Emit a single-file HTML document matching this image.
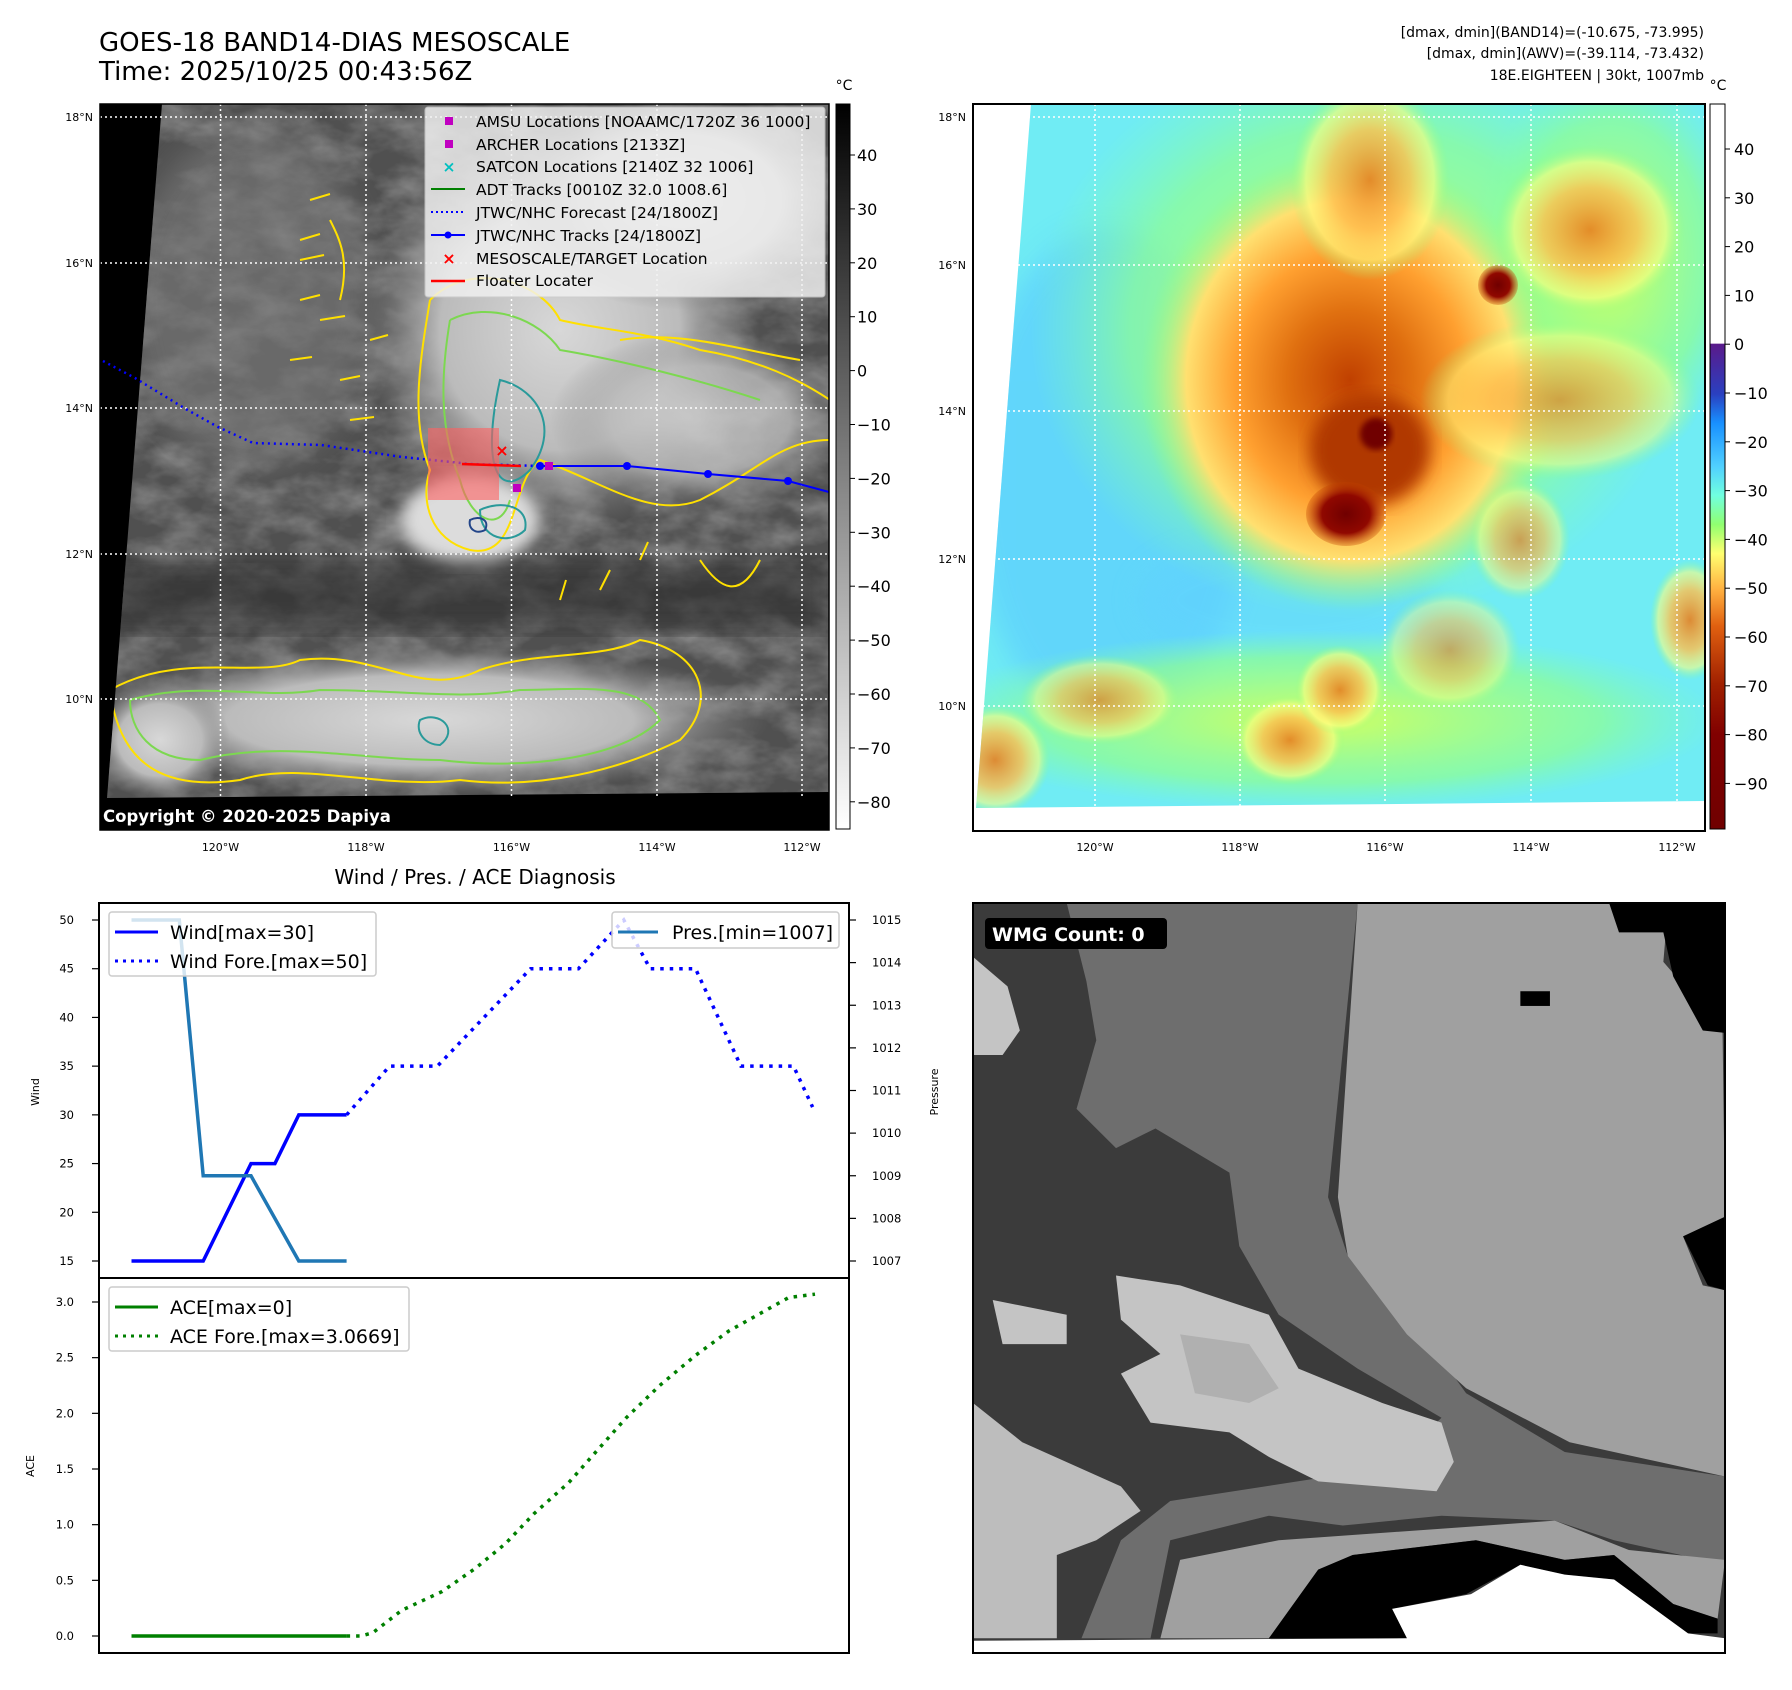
<!DOCTYPE html>
<html><head><meta charset="utf-8">
<style>
html,body{margin:0;padding:0;background:#fff;}
svg{display:block;font-family:"DejaVu Sans","Liberation Sans",sans-serif;}
</style></head>
<body>
<svg id="fig" width="1792" height="1690" viewBox="0 0 1792 1690" xmlns="http://www.w3.org/2000/svg">
<defs>
  <filter id="cloud" x="0" y="0" width="100%" height="100%">
    <feTurbulence type="fractalNoise" baseFrequency="0.02 0.035" numOctaves="4" seed="3"/>
    <feColorMatrix type="matrix" values="0 0 0 0 0.5  0 0 0 0 0.5  0 0 0 0 0.5  0 0 0 1.1 -0.35"/>
  </filter>
  <filter id="blur8"><feGaussianBlur stdDeviation="8"/></filter>
  <filter id="blur14"><feGaussianBlur stdDeviation="14"/></filter>
  <filter id="blur4"><feGaussianBlur stdDeviation="3"/></filter>
  <clipPath id="clipL"><polygon points="162,104 829,104 829,792 107,798"/></clipPath>
  <clipPath id="clipR"><polygon points="1031,104 1705,104 1705,801 976,808"/></clipPath>
  <linearGradient id="cbGray" x1="0" y1="0" x2="0" y2="1">
    <stop offset="0" stop-color="#000"/><stop offset="1" stop-color="#fff"/>
  </linearGradient>
  <linearGradient id="cbColor" x1="0" y1="0" x2="0" y2="1">
    <stop offset="0" stop-color="#fff"/><stop offset="0.33" stop-color="#fff"/>
    <stop offset="0.331" stop-color="#5a1a8a"/>
    <stop offset="0.40" stop-color="#2a40c0"/>
    <stop offset="0.44" stop-color="#1890ff"/>
    <stop offset="0.50" stop-color="#50d0ff"/>
    <stop offset="0.54" stop-color="#70ffe0"/>
    <stop offset="0.58" stop-color="#90ff70"/>
    <stop offset="0.62" stop-color="#ffff70"/>
    <stop offset="0.67" stop-color="#ffb040"/>
    <stop offset="0.72" stop-color="#e06010"/>
    <stop offset="0.80" stop-color="#a02000"/>
    <stop offset="0.87" stop-color="#800000"/>
    <stop offset="1" stop-color="#700000"/>
  </linearGradient>
  <radialGradient id="stormR">
    <stop offset="0" stop-color="#c04000"/><stop offset="0.3" stop-color="#e07010"/>
    <stop offset="0.55" stop-color="#ffa030"/><stop offset="0.78" stop-color="#ffe070"/>
    <stop offset="1" stop-color="#90ff80" stop-opacity="0"/>
  </radialGradient>
  <radialGradient id="orangeR">
    <stop offset="0" stop-color="#e88020" stop-opacity="0.9"/><stop offset="0.5" stop-color="#ffc050" stop-opacity="0.8"/>
    <stop offset="0.8" stop-color="#ffff80" stop-opacity="0.6"/><stop offset="1" stop-color="#90ff80" stop-opacity="0"/>
  </radialGradient>
  <radialGradient id="greenR">
    <stop offset="0" stop-color="#d0ff60"/><stop offset="0.7" stop-color="#90ff90" stop-opacity="0.7"/>
    <stop offset="1" stop-color="#80ffb0" stop-opacity="0"/>
  </radialGradient>
  <radialGradient id="lightG">
    <stop offset="0" stop-color="#d8d8d8"/><stop offset="0.6" stop-color="#bbb"/>
    <stop offset="1" stop-color="#888" stop-opacity="0"/>
  </radialGradient>
  <radialGradient id="darkRed">
    <stop offset="0" stop-color="#700000"/><stop offset="0.6" stop-color="#900800"/>
    <stop offset="1" stop-color="#c04000" stop-opacity="0.3"/>
  </radialGradient>
</defs>

<!-- ===== Titles ===== -->
<text x="99" y="51" font-size="26">GOES-18 BAND14-DIAS MESOSCALE</text>
<text x="99" y="80" font-size="26">Time: 2025/10/25 00:43:56Z</text>
<g font-size="14" text-anchor="end">
  <text x="1704" y="37">[dmax, dmin](BAND14)=(-10.675, -73.995)</text>
  <text x="1704" y="58">[dmax, dmin](AWV)=(-39.114, -73.432)</text>
  <text x="1704" y="80">18E.EIGHTEEN | 30kt, 1007mb</text>
</g>

<!-- ===== Left map ===== -->
<g>
  <rect x="100" y="104" width="729" height="726" fill="#000"/>
  <g clip-path="url(#clipL)">
    <rect x="100" y="104" width="729" height="700" fill="#505050"/>
    <rect x="100" y="104" width="729" height="700" filter="url(#cloud)" opacity="0.8"/>
    <ellipse cx="250" cy="300" rx="120" ry="170" fill="#7a7a7a" filter="url(#blur14)" opacity="0.6"/>
    <ellipse cx="560" cy="330" rx="200" ry="200" fill="url(#lightG)"/>
    <ellipse cx="680" cy="200" rx="170" ry="110" fill="url(#lightG)"/>
    <ellipse cx="700" cy="420" rx="150" ry="90" fill="url(#lightG)" opacity="0.8"/>
    <ellipse cx="470" cy="520" rx="70" ry="45" fill="#dcdcdc" filter="url(#blur8)"/>
    <rect x="100" y="560" width="729" height="70" fill="#2a2a2a" opacity="0.6" filter="url(#blur14)"/>
    <ellipse cx="430" cy="720" rx="340" ry="75" fill="url(#lightG)"/>
    <ellipse cx="160" cy="740" rx="70" ry="60" fill="url(#lightG)"/>
    <g fill="none" stroke-width="2">
      <path d="M430,300 C470,260 540,280 560,320 C600,330 640,330 700,350 C760,360 800,380 830,400 M430,300 C420,360 410,420 430,470 C420,500 430,540 470,550 C520,560 510,480 540,460 C600,480 650,520 700,500 C760,470 780,440 830,440" stroke="#ffe000"/>
      <path d="M450,320 C490,300 540,320 560,350 C620,360 700,380 760,400 M450,320 C440,380 440,430 460,480 C470,520 500,535 510,500" stroke="#7cd850"/>
      <path d="M500,380 C540,390 560,430 530,470 C500,500 480,470 500,380 Z" stroke="#2a9a9a"/>
      <path d="M480,510 C500,500 530,505 525,530 C510,545 480,540 480,510 Z" stroke="#2a9a9a"/>
      <path d="M470,520 C480,515 490,520 485,530 C475,535 468,528 470,520 Z" stroke="#224488"/>
      <path d="M110,690 C180,650 260,680 300,660 C380,650 420,700 480,670 C540,650 600,660 640,640 C700,650 720,700 680,740 C620,770 540,790 460,780 C380,790 300,760 240,780 C170,790 120,770 110,690 Z" stroke="#ffe000"/>
      <path d="M130,700 C200,680 260,700 320,690 C400,690 460,700 520,690 C580,690 640,680 660,720 C620,760 520,770 440,760 C360,760 280,740 200,760 C150,760 130,730 130,700 Z" stroke="#7cd850"/>
      <path d="M420,720 C440,710 460,730 440,745 C425,745 415,732 420,720 Z" stroke="#2a9a9a"/>
      <path d="M330,220 C340,240 350,260 340,300 M300,240 l20,-6 M300,260 l24,-5 M310,200 l20,-6 M320,320 l25,-4 M300,300 l20,-5 M290,360 l22,-3 M340,380 l20,-4 M350,420 l24,-3 M370,340 l18,-5" stroke="#ffe000"/>
      <path d="M620,340 C680,330 740,350 800,360 M700,560 C720,590 740,600 760,560 M600,590 l10,-20 M640,560 l8,-18 M560,600 l6,-20" stroke="#ffe000"/>
    </g>
  </g>
  <g stroke="#fff" stroke-width="1.5" stroke-dasharray="2,3" fill="none">
    <line x1="220.5" y1="104" x2="220.5" y2="798"/><line x1="366" y1="104" x2="366" y2="798"/>
    <line x1="511.5" y1="104" x2="511.5" y2="798"/><line x1="657" y1="104" x2="657" y2="798"/>
    <line x1="802" y1="104" x2="802" y2="798"/>
    <line x1="100" y1="117" x2="829" y2="117"/><line x1="100" y1="263" x2="829" y2="263"/>
    <line x1="100" y1="408" x2="829" y2="408"/><line x1="100" y1="554" x2="829" y2="554"/>
    <line x1="100" y1="699" x2="829" y2="699"/>
  </g>
  <polyline points="103,361 135,378 184,408 218,427 253,443 321,445 402,457 471,464 540,466" fill="none" stroke="#0000ff" stroke-width="2.5" stroke-dasharray="2,4"/>
  <polyline points="540,466 627,466 708,474 788,481 829,492" fill="none" stroke="#0000ff" stroke-width="2"/>
  <g fill="#0000ff">
    <circle cx="540" cy="466" r="4"/><circle cx="627" cy="466" r="4"/><circle cx="708" cy="474" r="4"/><circle cx="788" cy="481" r="4"/>
  </g>
  <rect x="428" y="428" width="71" height="72" fill="#ff6060" opacity="0.6"/>
  <line x1="462" y1="464" x2="521" y2="466" stroke="#ff0000" stroke-width="2.5"/>
  <text x="502" y="456" font-size="16" fill="#ff0000" text-anchor="middle" font-weight="bold">×</text>
  <rect x="545" y="462" width="8" height="8" fill="#c000c0"/>
  <rect x="513" y="484" width="8" height="8" fill="#c000c0"/>
  <g font-size="15.5">
    <rect x="425" y="107" width="400" height="190" rx="3" fill="#f2f2f2" opacity="0.82" stroke="#ccc"/>
    <rect x="445" y="117" width="8" height="8" fill="#c000c0"/><text x="476" y="127">AMSU Locations [NOAAMC/1720Z 36 1000]</text>
    <rect x="445" y="140" width="8" height="8" fill="#c000c0"/><text x="476" y="150">ARCHER Locations [2133Z]</text>
    <text x="449" y="172" fill="#00c0c0" text-anchor="middle" font-weight="bold">×</text><text x="476" y="172">SATCON Locations [2140Z 32 1006]</text>
    <line x1="431" y1="189" x2="465" y2="189" stroke="#008000" stroke-width="2"/><text x="476" y="195">ADT Tracks [0010Z 32.0 1008.6]</text>
    <line x1="431" y1="212" x2="465" y2="212" stroke="#0000ff" stroke-width="2" stroke-dasharray="2,3"/><text x="476" y="218">JTWC/NHC Forecast [24/1800Z]</text>
    <line x1="431" y1="235" x2="465" y2="235" stroke="#0000ff" stroke-width="2"/><circle cx="448" cy="235" r="3.5" fill="#0000ff"/><text x="476" y="241">JTWC/NHC Tracks [24/1800Z]</text>
    <text x="449" y="264" fill="#ff0000" text-anchor="middle" font-weight="bold" font-size="16">×</text><text x="476" y="264">MESOSCALE/TARGET Location</text>
    <line x1="431" y1="281" x2="465" y2="281" stroke="#ff0000" stroke-width="2.5"/><text x="476" y="286">Floater Locater</text>
  </g>
  <text x="103" y="822" font-size="16.5" font-weight="bold" fill="#fff">Copyright © 2020-2025 Dapiya</text>
  <rect x="100" y="104" width="729" height="726" fill="none" stroke="#000" stroke-width="1.5"/>
  <g font-size="11" text-anchor="end">
    <text x="93" y="121">18°N</text><text x="93" y="267">16°N</text><text x="93" y="412">14°N</text><text x="93" y="558">12°N</text><text x="93" y="703">10°N</text>
  </g>
  <g font-size="11" text-anchor="middle">
    <text x="220.5" y="851">120°W</text><text x="366" y="851">118°W</text><text x="511.5" y="851">116°W</text><text x="657" y="851">114°W</text><text x="802" y="851">112°W</text>
  </g>
</g>
<g font-size="16">
  <rect x="836" y="104" width="14" height="725" fill="url(#cbGray)" stroke="#000" stroke-width="1"/>
  <text x="844" y="90" text-anchor="middle" font-size="14">°C</text>
  <g id="cb1ticks"></g>
</g>

<!-- ===== Right map ===== -->
<g>
  <rect x="973" y="104" width="732" height="727" fill="#fff"/>
  <g clip-path="url(#clipR)">
    <rect x="973" y="104" width="732" height="710" fill="#70ecf4"/>
    <ellipse cx="1110" cy="480" rx="140" ry="250" fill="#58c8ff" opacity="0.6" filter="url(#blur14)"/>
    <ellipse cx="1290" cy="600" rx="150" ry="60" fill="#60d0ff" opacity="0.5" filter="url(#blur14)"/>
    <ellipse cx="1360" cy="330" rx="330" ry="290" fill="url(#greenR)"/>
    <ellipse cx="1610" cy="260" rx="140" ry="200" fill="url(#greenR)"/>
    <ellipse cx="1320" cy="720" rx="400" ry="90" fill="url(#greenR)"/>
    <ellipse cx="1350" cy="380" rx="210" ry="230" fill="url(#stormR)"/>
    <ellipse cx="1370" cy="180" rx="80" ry="100" fill="url(#orangeR)"/>
    <ellipse cx="1590" cy="230" rx="95" ry="85" fill="url(#orangeR)"/>
    <ellipse cx="1560" cy="400" rx="140" ry="80" fill="url(#orangeR)" opacity="0.8"/>
    <ellipse cx="1370" cy="450" rx="60" ry="55" fill="#b03800" filter="url(#blur8)"/>
    <ellipse cx="1376" cy="434" rx="16" ry="16" fill="#700000" filter="url(#blur4)"/>
    <ellipse cx="1346" cy="514" rx="40" ry="32" fill="url(#darkRed)"/>
    <ellipse cx="1498" cy="285" rx="20" ry="20" fill="url(#darkRed)"/>
    <ellipse cx="995" cy="760" rx="55" ry="55" fill="url(#orangeR)"/>
    <ellipse cx="1290" cy="740" rx="55" ry="45" fill="url(#orangeR)"/>
    <ellipse cx="1340" cy="690" rx="45" ry="45" fill="url(#orangeR)"/>
    <ellipse cx="1100" cy="700" rx="80" ry="45" fill="url(#orangeR)" opacity="0.8"/>
    <ellipse cx="1450" cy="650" rx="70" ry="60" fill="url(#orangeR)" opacity="0.7"/>
    <ellipse cx="1690" cy="620" rx="40" ry="60" fill="url(#orangeR)"/>
    <ellipse cx="1520" cy="540" rx="50" ry="60" fill="url(#orangeR)" opacity="0.8"/>
  </g>
  <g stroke="#fff" stroke-width="1.5" stroke-dasharray="2,3" fill="none">
    <line x1="1095" y1="104" x2="1095" y2="806"/><line x1="1240" y1="104" x2="1240" y2="806"/>
    <line x1="1385" y1="104" x2="1385" y2="804"/><line x1="1531" y1="104" x2="1531" y2="803"/>
    <line x1="1677" y1="104" x2="1677" y2="802"/>
    <line x1="973" y1="117" x2="1705" y2="117"/><line x1="973" y1="265" x2="1705" y2="265"/>
    <line x1="973" y1="411" x2="1705" y2="411"/><line x1="973" y1="559" x2="1705" y2="559"/>
    <line x1="973" y1="706" x2="1705" y2="706"/>
  </g>
  <rect x="973" y="104" width="732" height="727" fill="none" stroke="#000" stroke-width="2"/>
  <g font-size="11" text-anchor="end">
    <text x="966" y="121">18°N</text><text x="966" y="269">16°N</text><text x="966" y="415">14°N</text><text x="966" y="563">12°N</text><text x="966" y="710">10°N</text>
  </g>
  <g font-size="11" text-anchor="middle">
    <text x="1095" y="851">120°W</text><text x="1240" y="851">118°W</text><text x="1385" y="851">116°W</text><text x="1531" y="851">114°W</text><text x="1677" y="851">112°W</text>
  </g>
</g>
<g font-size="16">
  <rect x="1710" y="104" width="15" height="725" fill="url(#cbColor)" stroke="#000" stroke-width="1"/>
  <text x="1718" y="90" text-anchor="middle" font-size="14">°C</text>
  <g id="cb2ticks"></g>
</g>

<!-- ===== Bottom-right WMG panel ===== -->
<g>
  <svg x="973" y="903" width="752" height="750" viewBox="0 0 1525 1530" preserveAspectRatio="none">
    <rect width="1525" height="1530" fill="#3b3b3b"/>
    <polygon fill="#6e6e6e" points="190,0 780,0 720,600 760,720 900,860 1000,1000 1200,1120 1525,1170 1525,1350 1300,1300 1180,1260 950,1250 750,1270 600,1250 400,1300 360,1500 220,1500 300,1300 400,1220 850,1150 950,1050 780,950 620,840 540,700 520,550 370,460 290,500 210,420 250,280 230,160"/>
    <polygon fill="#a0a0a0" points="780,0 1410,0 1400,120 1520,260 1525,640 1440,680 1480,780 1525,790 1525,1170 1210,1100 1000,990 880,880 760,720 740,600"/>
    <polygon fill="#a0a0a0" points="380,1500 420,1340 620,1300 1180,1260 1330,1320 1525,1340 1510,1460 1420,1430 1300,1330 1200,1340 1020,1300 770,1330 700,1360 600,1500"/>
    <polygon fill="#000" points="600,1500 700,1360 770,1330 1020,1300 1200,1340 1300,1330 1420,1430 1510,1460 1510,1490 1450,1490 1300,1380 1200,1370 1110,1350 1000,1410 850,1440 880,1500"/>
    <polygon fill="#fff" points="850,1440 1010,1410 1110,1350 1200,1370 1300,1380 1450,1490 1525,1500 1525,1530 0,1530 0,1505 880,1500"/>
    <polygon fill="#000" points="1250,0 1525,0 1525,265 1480,260 1420,150 1400,60 1310,60 1290,0"/>
    <polygon fill="#000" points="1440,680 1525,640 1525,790 1490,780"/>
    <rect x="1110" y="180" width="60" height="30" fill="#000"/>
    <polygon fill="#c4c4c4" points="290,760 420,780 600,840 660,950 830,1020 950,1060 975,1140 940,1200 700,1180 600,1130 520,1080 360,1060 300,960 380,920 300,850"/>
    <polygon fill="#b0b0b0" points="420,880 560,900 620,990 560,1020 450,1000"/>
    <polygon fill="#c4c4c4" points="40,810 190,840 190,900 60,900"/>
    <polygon fill="#bdbdbd" points="0,1020 100,1100 300,1190 340,1240 250,1300 170,1330 170,1500 0,1500"/>
    <polygon fill="#c4c4c4" points="0,110 70,170 95,260 60,310 0,310"/>
  </svg>
  <rect x="973" y="903" width="752" height="750" fill="none" stroke="#000" stroke-width="2"/>
  <rect x="985" y="918" width="182" height="31" rx="4" fill="#000"/>
  <text x="992" y="941" font-size="19" font-weight="bold" fill="#fff">WMG Count: 0</text>
</g>

<!-- ===== Bottom-left diagnosis chart ===== -->
<g id="diag">
  <text x="475" y="884" font-size="20" text-anchor="middle">Wind / Pres. / ACE Diagnosis</text>
  <rect x="99" y="903" width="750" height="375" fill="none" stroke="#000" stroke-width="2"/>
  <rect x="99" y="1278" width="750" height="375" fill="none" stroke="#000" stroke-width="2"/>
  <text transform="translate(39,1092) rotate(-90)" font-size="11" text-anchor="middle">Wind</text>
  <text transform="translate(938,1092) rotate(-90)" font-size="11" text-anchor="middle">Pressure</text>
  <text transform="translate(34,1466) rotate(-90)" font-size="11" text-anchor="middle">ACE</text>
  <g id="diagTicks"></g>
  <g id="diagLines"></g>
  <g font-size="19">
    <rect x="109" y="912" width="267" height="64" rx="3" fill="#fff" fill-opacity="0.8" stroke="#ccc" stroke-width="1.5"/>
    <line x1="115" y1="932" x2="158" y2="932" stroke="#0000ff" stroke-width="3"/>
    <text x="170" y="939">Wind[max=30]</text>
    <line x1="115" y1="961" x2="158" y2="961" stroke="#0000ff" stroke-width="3" stroke-dasharray="3,5"/>
    <text x="170" y="968">Wind Fore.[max=50]</text>
  </g>
  <g font-size="19">
    <rect x="612" y="912" width="227" height="36" rx="3" fill="#fff" fill-opacity="0.8" stroke="#ccc" stroke-width="1.5"/>
    <line x1="618" y1="932" x2="658" y2="932" stroke="#1f77b4" stroke-width="3"/>
    <text x="672" y="939">Pres.[min=1007]</text>
  </g>
  <g font-size="19">
    <rect x="109" y="1287" width="300" height="64" rx="3" fill="#fff" fill-opacity="0.8" stroke="#ccc" stroke-width="1.5"/>
    <line x1="115" y1="1307" x2="158" y2="1307" stroke="#008000" stroke-width="3"/>
    <text x="170" y="1314">ACE[max=0]</text>
    <line x1="115" y1="1336" x2="158" y2="1336" stroke="#008000" stroke-width="3" stroke-dasharray="3,5"/>
    <text x="170" y="1343">ACE Fore.[max=3.0669]</text>
  </g>
</g>

<script>
// ---- chart data ----
const windObsX = [0, 3, 5, 6, 7, 9];
const windObs = [15, 15, 25, 25, 30, 30];
const windForeX = [9, 10.8, 12.8, 16.7, 18.7, 20.6, 21.7, 23.6, 25.5, 27.7, 28.5];
const windFore = [30, 35, 35, 45, 45, 50, 45, 45, 35, 35, 30.8];
const presX = [0, 2, 3, 5, 7, 9];
const pres = [1015, 1015, 1009, 1009, 1007, 1007];
const aceObsX = [0, 9];
const aceObs = [0, 0];
const aceForeX = [9, 9.6, 10.1, 11.3, 13, 14.4, 15.65, 16.85, 18.3, 19.5, 20.7, 22.1, 23.6, 25, 26.5, 27.5, 28.6];
const aceFore = [0, 0, 0.03, 0.23, 0.40, 0.61, 0.83, 1.10, 1.38, 1.67, 1.96, 2.25, 2.52, 2.74, 2.92, 3.04, 3.07];
const windTicks = [15, 20, 25, 30, 35, 40, 45, 50];
const presTicks = [1007, 1008, 1009, 1010, 1011, 1012, 1013, 1014, 1015];
const aceTicks = [0.0, 0.5, 1.0, 1.5, 2.0, 2.5, 3.0];
const cb1Ticks = [40, 30, 20, 10, 0, -10, -20, -30, -40, -50, -60, -70, -80];
const cb2Ticks = [40, 30, 20, 10, 0, -10, -20, -30, -40, -50, -60, -70, -80, -90];

// ---- axis functions ----
const NS = 'http://www.w3.org/2000/svg';
const xIdx = i => 131.5 + i * 23.9;
const yWind = v => 1261 - (v - 15) * (341 / 35);
const yPres = v => 1261 - (v - 1007) * (341 / 8);
const yAce = v => 1636 - v * (334 / 3);
const yCb1 = v => 155 + (40 - v) * 5.39;
const yCb2 = v => 149 + (40 - v) * 4.88;
const fmtMinus = v => String(v).replace('-', '\u2212');

function mk(tag, attrs, parent) {
  const e = document.createElementNS(NS, tag);
  for (const k in attrs) e.setAttribute(k, attrs[k]);
  parent.appendChild(e);
  return e;
}
function line(xs, ys, fx, fy, stroke, dash, parent, name) {
  const pts = xs.map((x, i) => fx(x).toFixed(1) + ',' + fy(ys[i]).toFixed(1)).join(' ');
  const p = mk('polyline', {points: pts, fill: 'none', stroke: stroke, 'stroke-width': 3.5, 'stroke-linejoin': 'miter'}, parent);
  if (dash) p.setAttribute('stroke-dasharray', dash);
  
  
}

const lines = document.getElementById('diagLines');
line(windForeX, windFore, xIdx, yWind, '#0000ff', '3.5,6', lines, 'wind-forecast-line');
line(windObsX, windObs, xIdx, yWind, '#0000ff', null, lines, 'wind-observed-line');
line(presX, pres, xIdx, yPres, '#1f77b4', null, lines, 'pressure-line');
line(aceForeX, aceFore, xIdx, yAce, '#008000', '3.5,6', lines, 'ace-forecast-line');
line(aceObsX, aceObs, xIdx, yAce, '#008000', null, lines, 'ace-observed-line');

const ticks = document.getElementById('diagTicks');
windTicks.forEach(v => {
  const y = yWind(v);
  mk('line', {x1: 92, y1: y, x2: 99, y2: y, stroke: '#000', 'stroke-width': 1.2}, ticks);
  const t = mk('text', {x: 74, y: y + 4, 'font-size': 11.5, 'text-anchor': 'end'}, ticks);
  t.textContent = v;
  
  
});
presTicks.forEach(v => {
  const y = yPres(v);
  mk('line', {x1: 849, y1: y, x2: 856, y2: y, stroke: '#000', 'stroke-width': 1.2}, ticks);
  const t = mk('text', {x: 872, y: y + 4, 'font-size': 11.5}, ticks);
  t.textContent = v;
  
  
});
aceTicks.forEach(v => {
  const y = yAce(v);
  mk('line', {x1: 92, y1: y, x2: 99, y2: y, stroke: '#000', 'stroke-width': 1.2}, ticks);
  const t = mk('text', {x: 74, y: y + 4, 'font-size': 11.5, 'text-anchor': 'end'}, ticks);
  t.textContent = v.toFixed(1);
  
  
});

const c1 = document.getElementById('cb1ticks');
cb1Ticks.forEach(v => {
  const y = yCb1(v);
  mk('line', {x1: 850, y1: y, x2: 855, y2: y, stroke: '#000'}, c1);
  const t = mk('text', {x: 857, y: y + 6, 'font-size': 16}, c1);
  t.textContent = fmtMinus(v);
  
  
});
const c2 = document.getElementById('cb2ticks');
cb2Ticks.forEach(v => {
  const y = yCb2(v);
  mk('line', {x1: 1725, y1: y, x2: 1730, y2: y, stroke: '#000'}, c2);
  const t = mk('text', {x: 1734, y: y + 6, 'font-size': 16}, c2);
  t.textContent = fmtMinus(v);
  
  
});
</script>
</svg>
</body></html>
